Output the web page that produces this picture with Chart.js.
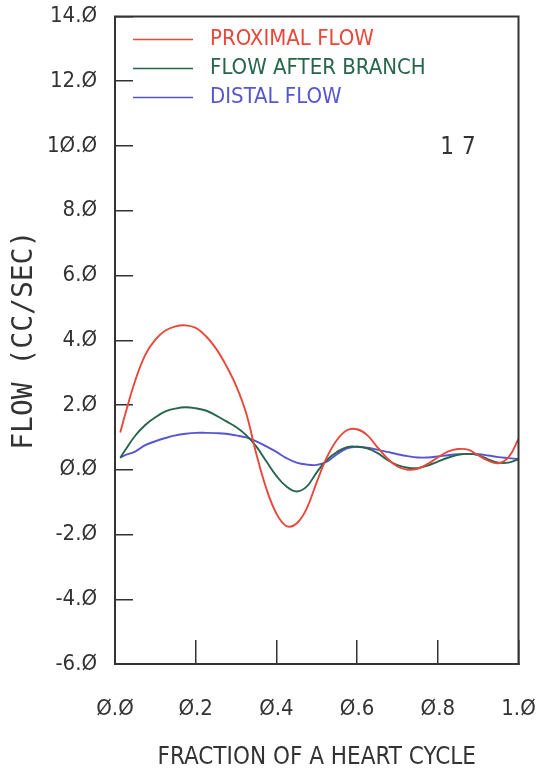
<!DOCTYPE html>
<html>
<head>
<meta charset="utf-8">
<script src="https://cdn.jsdelivr.net/npm/chart.js@4/dist/chart.umd.min.js"></script>
<style>
  html, body { margin: 0; padding: 0; background: #fff; }
  #wrap { width: 541px; height: 773px; }
</style>
</head>
<body>
<div id="wrap"><canvas id="flowChart"></canvas></div>
<script>
// fraction of the heart cycle
const phase = [0.013, 0.025, 0.05, 0.075, 0.1, 0.125, 0.15, 0.175, 0.2, 0.225, 0.25, 0.275, 0.3, 0.325, 0.35,
  0.375, 0.4, 0.425, 0.45, 0.475, 0.5, 0.525, 0.55, 0.575, 0.6, 0.625, 0.65, 0.675, 0.7, 0.725, 0.75,
  0.775, 0.8, 0.825, 0.85, 0.875, 0.9, 0.925, 0.95, 0.975, 1.0];

// flow, cc/sec
const proximalFlow = [1.15, 1.7, 2.75, 3.55, 4.02, 4.3, 4.43, 4.46, 4.38, 4.13, 3.75, 3.23, 2.6, 1.75, 0.5,
  -0.58, -1.35, -1.74, -1.66, -1.2, -0.38, 0.38, 0.92, 1.22, 1.25, 1.07, 0.7, 0.35, 0.1, 0.0, 0.03,
  0.18, 0.38, 0.56, 0.64, 0.62, 0.45, 0.28, 0.2, 0.38, 0.95];
const flowAfterBranch = [0.37, 0.6, 1.05, 1.38, 1.62, 1.8, 1.89, 1.93, 1.9, 1.83, 1.68, 1.5, 1.32, 1.07, 0.72,
  0.26, -0.19, -0.52, -0.67, -0.52, -0.08, 0.3, 0.55, 0.7, 0.71, 0.66, 0.52, 0.3, 0.14, 0.06, 0.05,
  0.13, 0.25, 0.37, 0.46, 0.49, 0.45, 0.32, 0.22, 0.22, 0.32];
const distalFlow = [0.37, 0.45, 0.56, 0.76, 0.88, 0.98, 1.06, 1.11, 1.14, 1.14, 1.13, 1.11, 1.06, 1.0, 0.88,
  0.72, 0.55, 0.36, 0.22, 0.16, 0.15, 0.25, 0.48, 0.66, 0.71, 0.68, 0.62, 0.55, 0.48, 0.42, 0.38,
  0.38, 0.41, 0.45, 0.48, 0.49, 0.48, 0.44, 0.39, 0.36, 0.33];

const seriesNames = ['PROXIMAL FLOW', 'FLOW AFTER BRANCH', 'DISTAL FLOW'];
const seriesColors = ['#e8483a', '#27664a', '#5656d2'];
const caseNumber = '17';

const yTicks = [-6, -4, -2, 0, 2, 4, 6, 8, 10, 12, 14];
const xTicks = [0, 0.2, 0.4, 0.6, 0.8, 1.0];

const plotter = "'Liberation Sans Narrow', 'DejaVu Sans Condensed', 'DejaVu Sans', sans-serif";
const ink = '#333';

// plotter style zeros
const fmt = v => v.toFixed(1).replace(/0/g, '\u00d8');

const toPoints = vals => vals.map((v, i) => ({ x: phase[i], y: v }));

// box round the plot, legend and case number
const decor = {
  id: 'decor',
  afterDraw(chart) {
    const { ctx, chartArea: a } = chart;
    ctx.save();
    ctx.strokeStyle = ink;
    ctx.lineWidth = 2;
    ctx.strokeRect(a.left, a.top, a.right - a.left, a.bottom - a.top);

    ctx.font = '22px ' + plotter;
    ctx.textBaseline = 'middle';
    chart.data.datasets.forEach((ds, i) => {
      const y = a.top + 23 + i * 29;
      ctx.strokeStyle = ds.borderColor;
      ctx.lineWidth = 1.5;
      ctx.beginPath();
      ctx.moveTo(a.left + 18, y);
      ctx.lineTo(a.left + 78, y);
      ctx.stroke();
      ctx.fillStyle = ds.borderColor;
      ctx.fillText(ds.label, a.left + 95, y);
    });

    ctx.fillStyle = ink;
    ctx.font = '24px ' + plotter;
    ctx.letterSpacing = '8px';
    ctx.textAlign = 'center';
    ctx.fillText(caseNumber, a.left + 347, a.top + 131);
    ctx.restore();
  }
};

new Chart(document.getElementById('flowChart'), {
  type: 'line',
  data: {
    datasets: [proximalFlow, flowAfterBranch, distalFlow].map((vals, i) => ({
      label: seriesNames[i],
      data: toPoints(vals),
      borderColor: seriesColors[i],
      borderWidth: 1.9,
      pointRadius: 0,
      tension: 0.4,
      fill: false
    }))
  },
  options: {
    responsive: true,
    maintainAspectRatio: false,
    animation: false,
    layout: { padding: { top: 16.5, right: 22.5, left: 0, bottom: 0 } },
    plugins: { legend: { display: false }, tooltip: { enabled: false } },
    scales: {
      x: {
        type: 'linear',
        min: 0,
        max: 1,
        afterBuildTicks: s => { s.ticks = xTicks.map(v => ({ value: v })); },
        afterFit: s => { s.height = 109; s.paddingLeft = 0; s.paddingRight = 0; },
        grid: { drawOnChartArea: false, drawTicks: true, tickLength: -24, color: ink, lineWidth: 1.5 },
        border: { display: true, color: ink, width: 2 },
        ticks: {
          autoSkip: false,
          maxRotation: 0,
          padding: 56,
          color: ink,
          font: { family: plotter, size: 22 },
          callback: v => fmt(v)
        },
        title: {
          display: true,
          text: 'FRACTION OF A HEART CYCLE',
          color: ink,
          font: { family: plotter, size: 24, lineHeight: 1.0 },
          padding: { top: 0, bottom: 3 }
        }
      },
      y: {
        min: -6,
        max: 14,
        afterBuildTicks: s => { s.ticks = yTicks.map(v => ({ value: v })); },
        afterFit: s => { s.width = 115; s.paddingTop = 0; s.paddingBottom = 0; },
        grid: { drawOnChartArea: false, drawTicks: true, tickLength: -18, color: ink, lineWidth: 1.5 },
        border: { display: true, color: ink, width: 2 },
        ticks: {
          autoSkip: false,
          padding: 36,
          color: ink,
          font: { family: plotter, size: 22 },
          callback: v => fmt(v)
        },
        title: {
          display: true,
          text: 'FLOW (CC/SEC)',
          color: ink,
          font: { family: "'DejaVu Sans Mono', monospace", size: 28, lineHeight: 1.2 },
          padding: { top: 8, bottom: 0 }
        }
      }
    }
  },
  plugins: [decor]
});
</script>
</body>
</html>
